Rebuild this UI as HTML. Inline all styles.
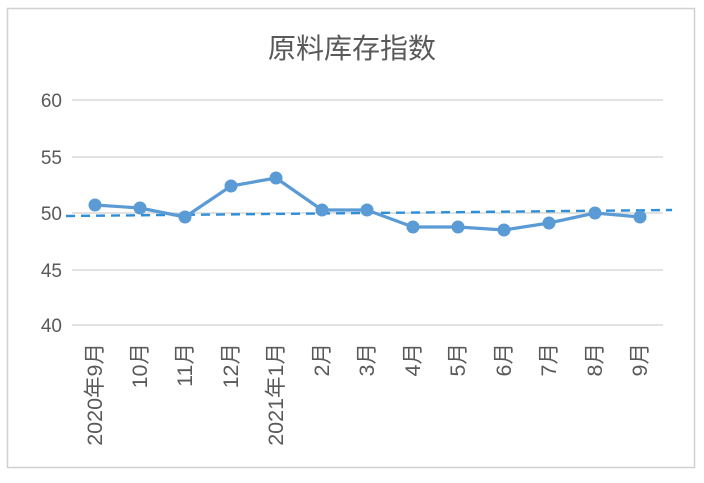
<!DOCTYPE html>
<html><head><meta charset="utf-8"><style>
body{margin:0;background:#fff;width:704px;height:478px;overflow:hidden}
svg text{font-family:"Liberation Sans","Noto Sans CJK SC",sans-serif;fill:#595959}
</style></head><body>
<svg width="704" height="478" xmlns="http://www.w3.org/2000/svg">
<rect x="7.5" y="8.5" width="687" height="459" fill="#fff" stroke="#d0d0d0" stroke-width="1.5"/>
<text x="352" y="58" font-size="28" text-anchor="middle">原料库存指数</text>
<g stroke="#d9d9d9" stroke-width="1.5">
<line x1="72" y1="100" x2="663" y2="100"/><line x1="72" y1="157" x2="663" y2="157"/>
<line x1="72" y1="213" x2="663" y2="213"/><line x1="72" y1="270" x2="663" y2="270"/>
<line x1="72" y1="325" x2="663" y2="325"/></g>
<g font-size="19" text-anchor="end">
<text x="62" y="107">60</text><text x="62" y="164">55</text><text x="62" y="220">50</text><text x="62" y="277">45</text><text x="62" y="332">40</text></g>
<line x1="66" y1="216" x2="672" y2="210" stroke="#2e8fd8" stroke-width="2.4" stroke-dasharray="9,6"/>
<polyline fill="none" stroke="#5b9bd5" stroke-width="3.2" points="95,205 140,208 185,217 231,186 276,178 322,210 367,210 413,227 458,227 504,230 549,223 595,213 640,217"/>
<g fill="#5b9bd5">
<circle cx="95" cy="205" r="6.5"/><circle cx="140" cy="208" r="6.5"/><circle cx="185" cy="217" r="6.5"/><circle cx="231" cy="186" r="6.5"/><circle cx="276" cy="178" r="6.5"/><circle cx="322" cy="210" r="6.5"/><circle cx="367" cy="210" r="6.5"/><circle cx="413" cy="227" r="6.5"/><circle cx="458" cy="227" r="6.5"/><circle cx="504" cy="230" r="6.5"/><circle cx="549" cy="223" r="6.5"/><circle cx="595" cy="213" r="6.5"/><circle cx="640" cy="217" r="6.5"/></g>
<g font-size="21.5" text-anchor="end">
<text transform="translate(102,343) rotate(-90)">2020年9月</text>
<text transform="translate(147,343) rotate(-90)">10月</text>
<text transform="translate(192,343) rotate(-90)">11月</text>
<text transform="translate(238,343) rotate(-90)">12月</text>
<text transform="translate(283,343) rotate(-90)">2021年1月</text>
<text transform="translate(329,343) rotate(-90)">2月</text>
<text transform="translate(374,343) rotate(-90)">3月</text>
<text transform="translate(420,343) rotate(-90)">4月</text>
<text transform="translate(465,343) rotate(-90)">5月</text>
<text transform="translate(511,343) rotate(-90)">6月</text>
<text transform="translate(556,343) rotate(-90)">7月</text>
<text transform="translate(602,343) rotate(-90)">8月</text>
<text transform="translate(647,343) rotate(-90)">9月</text>
</g>
</svg>
</body></html>
